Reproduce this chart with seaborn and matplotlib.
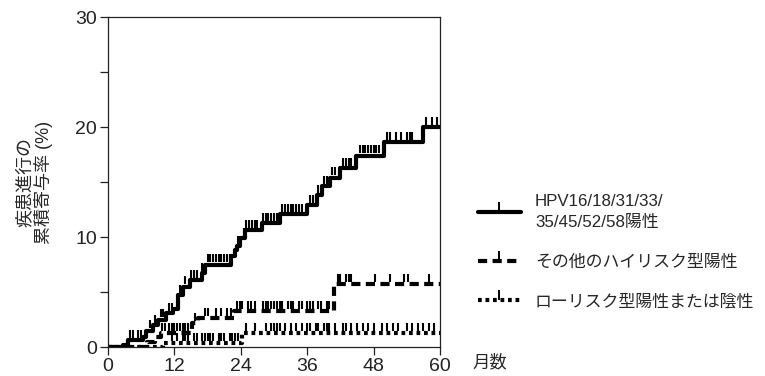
import numpy as np
import pandas as pd
import matplotlib
matplotlib.use('Agg')
import matplotlib.pyplot as plt
from matplotlib.lines import Line2D
import seaborn as sns

# 累積寄与率 (%) のステップ関数: イベント月数と値
hpv_hi_t = [0, 2.7, 3.6, 6.3, 6.9, 8.1, 9.0, 10.5, 11.7, 12.7, 13.6, 14.8, 16.9, 17.5,
            22.3, 22.9, 23.3, 23.8, 24.7, 27.8, 31.1, 35.9, 37.7, 38.6, 40.1, 41.9,
            44.9, 49.8, 57.0, 60]
hpv_hi_v = [0, 0.2, 0.6, 0.9, 1.5, 2.0, 2.5, 3.1, 3.5, 4.7, 5.5, 6.1, 6.7, 7.5,
            8.3, 8.8, 9.2, 9.9, 10.6, 11.3, 12.1, 12.9, 13.8, 14.6, 15.4, 16.3,
            17.4, 18.6, 20.0, 20.0]
hpv_hi_cens = [4, 4.5, 5.5, 6, 7.5, 8.5, 9.5, 10, 11, 11.5, 13, 14, 15, 15.5, 16, 17,
               18, 18.5, 19, 19.5, 20, 20.5, 21, 21.5, 22, 23.5, 24.5, 25, 25.5, 26,
               26.5, 27, 28, 28.5, 29, 29.5, 30, 30.5, 31.5, 32, 32.5, 33, 33.5, 34,
               34.5, 35, 36.5, 37, 38, 39, 39.5, 40.5, 41, 42.5, 43, 43.5, 44, 45.5,
               46, 46.5, 47, 47.5, 48, 48.5, 49, 50.5, 51, 52, 53, 54, 54.5, 55,
               57.5, 58.5, 59.5]

other_t = [0, 7.0, 8.5, 9.5, 15.1, 16.3, 22.7, 40.8, 60]
other_v = [0, 0.5, 0.9, 1.3, 2.2, 2.6, 3.3, 5.7, 5.7]
other_cens = [9.8, 10.3, 11, 11.5, 12, 12.5, 13, 13.5, 14, 14.5, 15.8, 17.5, 18, 19.5,
              20.5, 21.5, 22.3, 23.3, 23.8, 24.3, 25.3, 25.8, 26.5, 28, 28.5, 29,
              29.5, 30, 30.5, 31, 31.5, 32.5, 33, 33.5, 34.5, 35, 36, 36.5, 37, 38,
              38.5, 39.5, 40, 41.5, 42, 43, 43.5, 44, 48.3, 51, 53.5, 54.3, 58]

low_t = [0, 10.0, 24.2, 60]
low_v = [0, 0.35, 1.25, 1.25]
low_cens = [11.5, 12.5, 13.5, 14, 14.5, 15.5, 16, 17, 17.5, 18, 18.5, 19, 20, 20.5,
            21, 22, 22.5, 23, 23.5, 25, 26.5, 28.5, 29.5, 30, 30.5, 31, 32, 33, 34,
            35, 36, 36.5, 37.5, 38, 39, 39.5, 40, 41, 42.5, 43, 44, 45, 46, 47, 48,
            49.5, 50.5, 51.5, 52.5, 54, 55, 56, 57, 58, 59]

labels = ['HPV16/18/31/33/\n35/45/52/58陽性', 'その他のハイリスク型陽性',
          'ローリスク型陽性または陰性']

sns.set_style('ticks')
plt.rcParams['font.family'] = ['Liberation Sans', 'Noto Sans CJK JP', 'DejaVu Sans']
plt.rcParams['axes.unicode_minus'] = False

fig = plt.figure(figsize=(7.65, 3.76), dpi=100)
ax = fig.add_axes([108 / 765, 29 / 376, 332 / 765, 330 / 376])

lw = 3.0
styles = ['-', (0, (2.2, 1.3)), (0, (0.9, 0.9))]
groups = [(hpv_hi_t, hpv_hi_v, hpv_hi_cens),
          (other_t, other_v, other_cens),
          (low_t, low_v, low_cens)]

for (t, v, cens), ls in zip(groups, styles):
    df = pd.DataFrame({'month': t, 'pct': v})
    sns.lineplot(data=df, x='month', y='pct', drawstyle='steps-post', estimator=None,
                 color='black', linewidth=lw, linestyle=ls, ax=ax)
    # 打ち切り (censor) マーク: 曲線上の値に上向きの目盛り
    idx = np.searchsorted(t, cens, side='right') - 1
    cy = np.asarray(v)[idx]
    ax.plot(cens, cy + 0.2, linestyle='none', marker=2, markersize=5.5,
            markeredgewidth=1.5, color='black')

ax.set_xlim(0, 60)
ax.set_ylim(0, 30)
ax.set_xticks([0, 12, 24, 36, 48, 60])
ax.set_yticks([0, 10, 20, 30])
ax.set_yticks([5, 15, 25], minor=True)
ax.tick_params(axis='both', which='both', direction='out', length=6, width=0.9,
               labelsize=14, colors='#222222', pad=2)
for s in ax.spines.values():
    s.set_linewidth(0.9)
    s.set_color('#222222')
ax.set_xlabel('')
ax.set_ylabel('疾患進行の\n累積寄与率 (%)', fontsize=13, linespacing=1.05)
ax.yaxis.set_label_coords((53 - 108) / 332, 0.5)
fig.text(490 / 765, 1 - 362 / 376, '月数', fontsize=12.5, ha='center', va='center')

handles = [Line2D([], [], color='black', linewidth=lw, linestyle=ls, marker=2,
                  markersize=7, markeredgewidth=1.4) for ls in styles]
leg = fig.legend(handles, labels, loc='upper left', bbox_to_anchor=(463 / 765, 1 - 179 / 376),
                 frameon=False, fontsize=12.2, handlelength=2.5, handletextpad=0.85,
                 labelspacing=1.45, numpoints=1)
leg.get_texts()[0].set_linespacing(1.45)

fig.savefig('out.png', dpi=100)
